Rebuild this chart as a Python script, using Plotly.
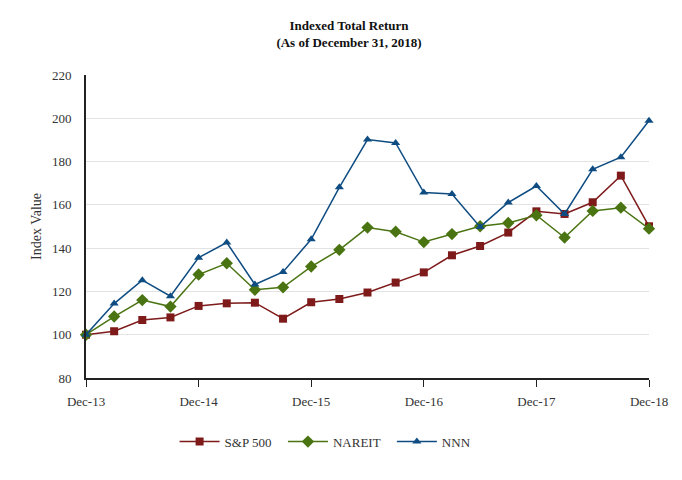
import plotly.graph_objects as go

quarters = list(range(21))
tick_pos = [0, 4, 8, 12, 16, 20]
tick_labels = ["Dec-13", "Dec-14", "Dec-15", "Dec-16", "Dec-17", "Dec-18"]

sp500 = [100, 101.6, 106.8, 108.0, 113.3, 114.5, 114.8, 107.4, 115.0, 116.5, 119.5,
         124.1, 128.8, 136.7, 141.0, 147.2, 157.0, 155.8, 161.2, 173.5, 150.1]
nareit = [100, 108.4, 116.0, 113.0, 127.8, 133.0, 120.8, 121.9, 131.5, 139.2, 149.5,
          147.6, 142.8, 146.5, 150.1, 151.6, 155.2, 144.9, 157.2, 158.7, 149.0]
nnn = [100, 114.4, 125.2, 117.8, 135.6, 142.6, 123.2, 129.0, 144.1, 168.1, 190.2,
       188.6, 165.7, 165.0, 149.8, 161.1, 168.7, 155.8, 176.4, 182.0, 198.9]

series = [
    ("S&P 500", sp500, "#7E1A1A", "square"),
    ("NAREIT", nareit, "#4A7412", "diamond"),
    ("NNN", nnn, "#0E4C82", "triangle-up"),
]

fig = go.Figure()
for name, vals, color, sym in series:
    fig.add_trace(go.Scatter(
        x=quarters, y=vals, name=name + "  ", mode="lines+markers",
        line=dict(color=color, width=1.5),
        marker=dict(symbol=sym, size=8 if sym != "diamond" else 9.5, color=color),
        cliponaxis=False,
    ))

serif = "Liberation Serif, Times New Roman, serif"
fig.update_layout(
    width=682, height=480,
    margin=dict(l=78, r=41, t=67, b=110),
    paper_bgcolor="white", plot_bgcolor="white",
    font=dict(family=serif, size=13, color="#333333"),
    title=dict(
        text="<b>Indexed Total Return</b><br><b>(As of December 31, 2018)</b>",
        x=0.5, xref="container", xanchor="center",
        y=0.955, yref="container", yanchor="top",
        font=dict(family=serif, size=13, color="#111111"),
    ),
    showlegend=True,
    legend=dict(orientation="h", x=0.43, xanchor="center", y=-0.21, yanchor="middle",
                font=dict(family=serif, size=13, color="#333333"), itemwidth=40),
    xaxis=dict(
        range=[0, 20], tickmode="array", tickvals=tick_pos, ticktext=tick_labels,
        showgrid=False, zeroline=False, showline=True, linecolor="#222222", linewidth=2,
        ticks="outside", ticklen=7, tickcolor="#222222", tickwidth=1,
        ticklabelstandoff=3,
    ),
    yaxis=dict(
        range=[80, 220], dtick=20, showgrid=True, gridcolor="#E3E3E3", gridwidth=1,
        zeroline=False, showline=True, linecolor="#222222", linewidth=2,
        ticks="outside", ticklen=10, tickcolor="rgba(0,0,0,0)",
        title=dict(text="Index Value", font=dict(family=serif, size=14, color="#333333"),
                   standoff=7),
    ),
)

fig.write_html("out.html")
